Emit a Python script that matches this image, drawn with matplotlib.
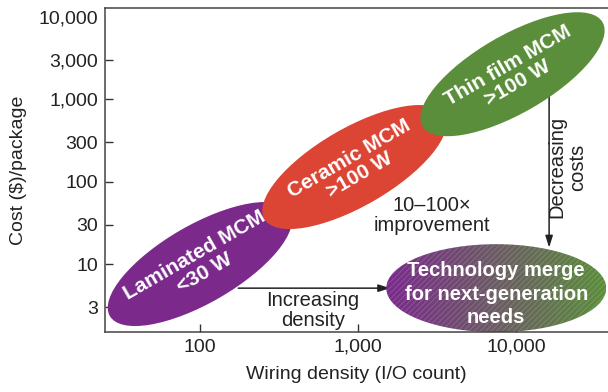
import numpy as np
import matplotlib
matplotlib.use("Agg")
import matplotlib.pyplot as plt
from matplotlib.patches import Ellipse
from matplotlib.image import AxesImage
from matplotlib.transforms import ScaledTranslation
from matplotlib.ticker import NullLocator

# package technologies: centre of each region (I/O count, cost $/package)
techs = ["Laminated MCM\n<30 W", "Ceramic MCM\n>100 W", "Thin film MCM\n>100 W"]
tech_density = [100, 950, 9500]
tech_cost = [10, 150, 2000]
tech_colors = ["#7b2a8c", "#dc4433", "#5b8e3b"]

merge_label = "Technology merge\nfor next-generation\nneeds"
merge_density = 7500
merge_cost = 5.1

xticks = [100, 1000, 10000]
xticklabels = ["100", "1,000", "10,000"]
yticks = [3, 10, 30, 100, 300, 1000, 3000, 10000]
yticklabels = ["3", "10", "30", "100", "300", "1,000", "3,000", "10,000"]

plt.rcParams["font.family"] = ["Liberation Sans", "DejaVu Sans"]
txt = "#222222"

fig = plt.figure(figsize=(6.08, 3.92), dpi=100)
ax = fig.add_axes([105 / 608, 60 / 392, 503 / 608, 324 / 392])
ax.set_xscale("log")
ax.set_yscale("log")


def place(x, y):
    # size in inches, centre in data coords
    return fig.dpi_scale_trans + ScaledTranslation(x, y, ax.transData)


# arrows (under the blobs)
ax.annotate("", xy=(1600, 5.1), xytext=(175, 5.1),
            arrowprops=dict(arrowstyle="-|>,head_length=0.7,head_width=0.22",
                            color=txt, lw=1.1, shrinkA=0, shrinkB=0), zorder=1)
ax.annotate("", xy=(16200, 15.8), xytext=(16200, 1100),
            arrowprops=dict(arrowstyle="-|>,head_length=0.7,head_width=0.22",
                            color=txt, lw=1.1, shrinkA=0, shrinkB=0), zorder=1)

for name, x, y, c in zip(techs, tech_density, tech_cost, tech_colors):
    ax.add_patch(Ellipse((0, 0), 2.08, 0.78, angle=30, transform=place(x, y),
                         facecolor=c, edgecolor="none", zorder=2))
    ax.text(x, y, name, color="white", fontsize=15, fontweight="bold",
            rotation=30, rotation_mode="anchor", ha="center", va="center",
            linespacing=1.05, zorder=3)

# merge blob: purple -> green gradient with a fine hatch
tr = place(merge_density, merge_cost)
w, h = 2.2, 0.88
blob = Ellipse((0, 0), w, h, transform=tr, facecolor="none", edgecolor="none", zorder=2)
ax.add_patch(blob)
c0 = np.array(matplotlib.colors.to_rgb(tech_colors[0]))
c1 = np.array(matplotlib.colors.to_rgb(tech_colors[2]))
t = np.linspace(0, 1, 256)[None, :, None]
grad = c0 * (1 - t) + c1 * t
im = AxesImage(ax, interpolation="bilinear", extent=(-w / 2, w / 2, -h / 2, h / 2),
               transform=tr, zorder=2)
im.set_data(grad)
im.set_clip_path(blob)
ax.add_image(im)
plt.rcParams["hatch.linewidth"] = 0.6
ax.add_patch(Ellipse((0, 0), w, h, transform=tr, facecolor="none",
                     edgecolor=(1, 1, 1, 0.18), lw=0, hatch="//////", zorder=2.1))
ax.text(merge_density, 4.3, merge_label, color="white", fontsize=14.5,
        fontweight="bold", ha="center", va="center", linespacing=1.3, zorder=3)

ax.text(2940, 39, "10\u2013100\u00d7\nimprovement", color=txt, fontsize=14.5,
        ha="center", va="center", linespacing=1.1)
ax.text(519, 2.75, "Increasing\ndensity", color=txt, fontsize=14.5,
        ha="center", va="center", linespacing=1.1)
ax.text(21000, 150, "Decreasing\ncosts", color=txt, fontsize=14.5, rotation=90,
        ha="center", va="center", linespacing=1.1)

ax.set_xticks(xticks)
ax.set_xticklabels(xticklabels)
ax.set_yticks(yticks)
ax.set_yticklabels(yticklabels)
ax.xaxis.set_minor_locator(NullLocator())
ax.yaxis.set_minor_locator(NullLocator())
ax.yaxis.get_major_ticks()[-1].tick1line.set_visible(False)
ax.set_xlim(25.1, 38200)
ax.set_ylim(1.5, 12700)
ax.tick_params(direction="in", length=6, width=1, color="#333333",
               labelsize=14, labelcolor=txt, pad=5)
for s in ["left", "bottom", "top"]:
    ax.spines[s].set_color("#444444")
    ax.spines[s].set_linewidth(1.1)
ax.spines["right"].set_visible(False)

ax.set_xlabel("Wiring density (I/O count)", fontsize=14, color=txt, labelpad=7)
ax.set_ylabel(r"Cost (\$)/package", fontsize=14, color=txt, labelpad=8)

fig.savefig("out.png", dpi=100)
